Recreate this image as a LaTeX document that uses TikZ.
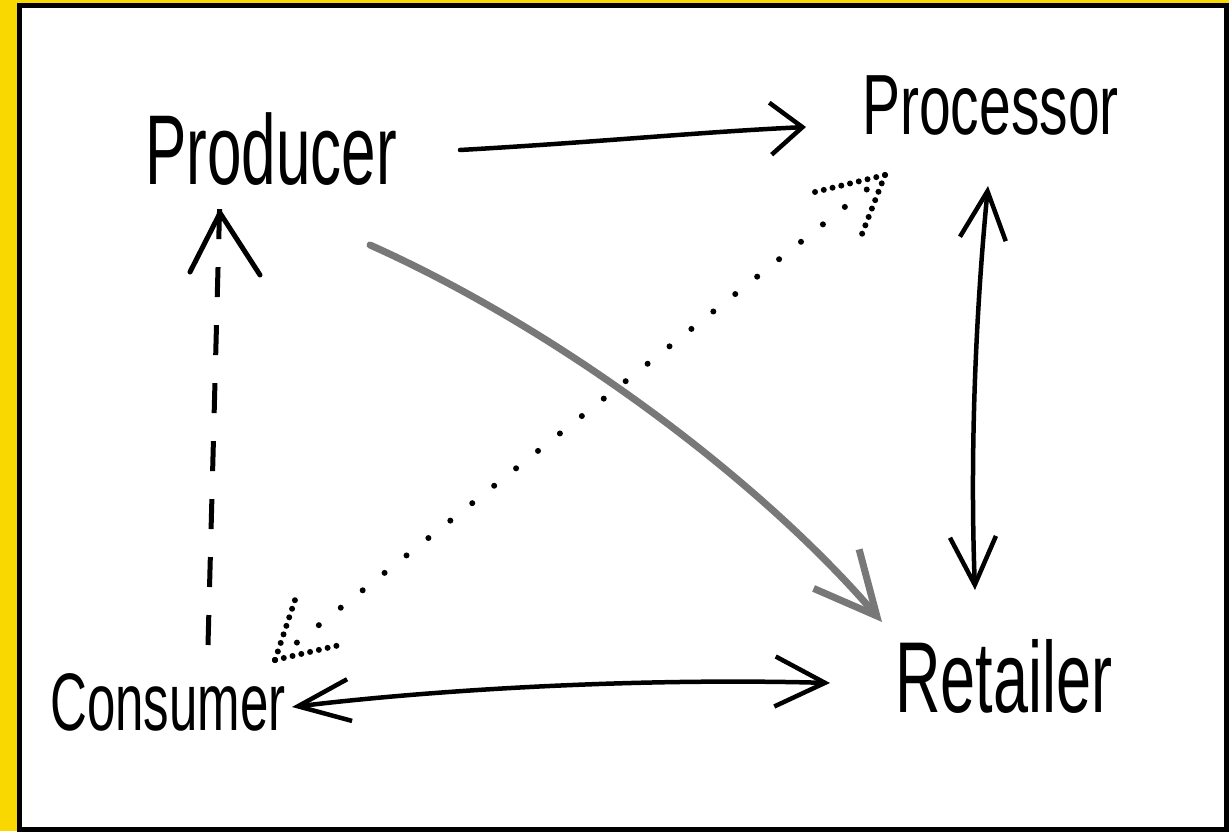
\documentclass[tikz,border=0pt]{standalone}
\usepackage{fontspec}
\usepackage{graphicx}
\setmainfont{Liberation Sans}
\usetikzlibrary{arrows.meta}
\definecolor{frameyellow}{HTML}{F8D800}
\definecolor{pengray}{HTML}{787878}
\newcommand{\tallword}[2]{\scalebox{1}[#1]{#2}}
\begin{document}
\begin{tikzpicture}[x=1pt,y=-1pt,
  word/.style={anchor=base west, inner sep=0pt, text=black},
  pen/.style={line width=4.5pt, line cap=round, line join=round, black},
  oneway/.style={pen, -{Straight Barb[length=32pt, width=52pt, line width=4.5pt]}},
  twoway/.style={pen, {Straight Barb[length=48pt, width=46pt, line width=4.5pt]}-{Straight Barb[length=48pt, width=46pt, line width=4.5pt]}},
  wideway/.style={pen, {Straight Barb[length=52pt, width=42pt, line width=4.5pt]}-{Straight Barb[length=50pt, width=50pt, line width=4.5pt]}},
  dashway/.style={pen, line width=5pt, dash pattern=on 30pt off 28pt, line cap=butt},
  dashhead/.style={pen, line width=5pt},
  grayway/.style={line width=7pt, line cap=round, pengray, -{Straight Barb[length=62pt, width=60pt, line width=7pt]}},
  dotway/.style={pen, line width=6pt, dash pattern=on 0pt off 28pt},
  dothead/.style={pen, line width=6pt, dash pattern=on 0pt off 9pt}
]
% sheet and frame
\fill[frameyellow] (0,0) rectangle (1229,831);
\filldraw[fill=white, draw=black, line width=5pt] (19.5,5.5) rectangle (1226.5,829.5);

% the four actors
\node[word, font=\fontsize{62}{62}\selectfont] (producer) at (145,185) {\tallword{1.6}{Producer}};
\node[word, font=\fontsize{57}{57}\selectfont] (processor) at (862,135) {\tallword{1.5}{Processor}};
\node[word, font=\fontsize{51}{51}\selectfont] (consumer) at (50,730) {\tallword{1.6}{Consumer}};
\node[word, font=\fontsize{63}{63}\selectfont] (retailer) at (895,712) {\tallword{1.6}{Retailer}};

% connector end points beside the words
\coordinate (prodE) at (460,150);
\coordinate (procW) at (806,127);
\coordinate (prodS) at (220,213);
\coordinate (prodSE) at (370,245);
\coordinate (procS) at (988,186);
\coordinate (procSW) at (885,175);
\coordinate (retN) at (975,590);
\coordinate (retNW) at (882,622);
\coordinate (retW) at (830,683);
\coordinate (consE) at (292,707);
\coordinate (consN) at (208,645);
\coordinate (consNE) at (275,660);

% producer -> processor
\draw[oneway] (prodE) .. controls (600,142) and (700,132) .. (procW);

% producer -> retailer (gray)
\draw[grayway] (prodSE) .. controls (560,330) and (760,480) .. (retNW);

% processor <-> retailer
\draw[twoway] (procS) .. controls (975,320) and (970,460) .. (retN);

% consumer <-> retailer
\draw[wideway] (consE) .. controls (450,688) and (650,678) .. (retW);

% consumer - - -> producer
\draw[dashway] (consN) -- ([yshift=20pt]prodS);
\draw[dashhead] (190,272) -- (prodS) -- (260,275);

% consumer <.....> processor
\draw[dotway] (consNE) -- (procSW);
\draw[dothead] (procSW) -- (815,192);
\draw[dothead] (procSW) -- (862,234);
\draw[dothead] (consNE) -- (295,600);
\draw[dothead] (consNE) -- (340,645);
\end{tikzpicture}
\end{document}
